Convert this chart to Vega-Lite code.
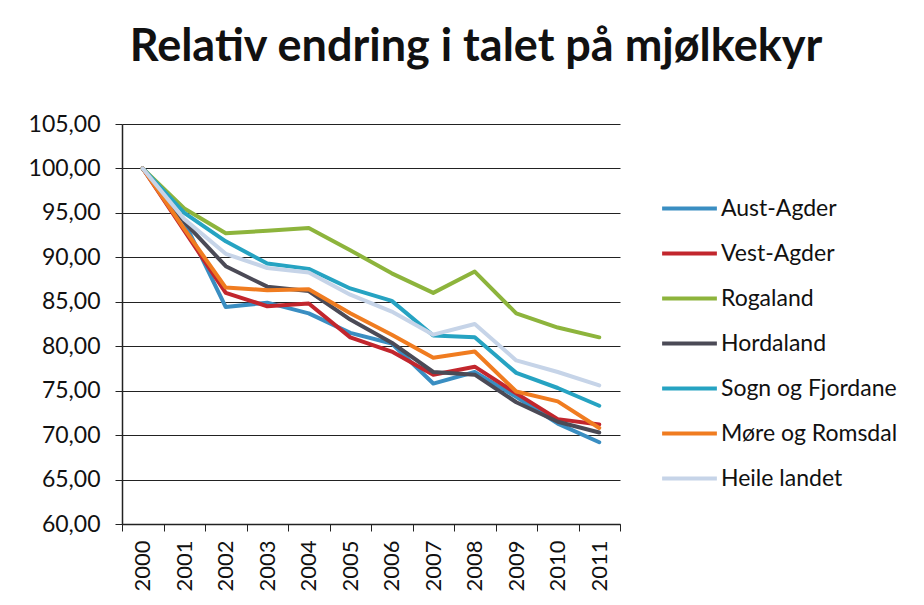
{
  "$schema": "https://vega.github.io/schema/vega-lite/v6.json",
  "width": 498,
  "height": 400,
  "autosize": "none",
  "padding": {"left": 122, "top": 124, "right": 304, "bottom": 81},
  "background": "white",
  "title": {
    "text": "Relativ endring i talet på mjølkekyr",
    "font": "Lato",
    "fontSize": 45,
    "fontWeight": "bold",
    "color": "#111111",
    "anchor": "middle",
    "dx": 105,
    "offset": 43
  },
  "datasets": {
    "d": [
      {"year": "2000", "region": "Aust-Agder", "value": 100},
      {"year": "2001", "region": "Aust-Agder", "value": 94.0},
      {"year": "2002", "region": "Aust-Agder", "value": 84.4},
      {"year": "2003", "region": "Aust-Agder", "value": 84.9},
      {"year": "2004", "region": "Aust-Agder", "value": 83.7},
      {"year": "2005", "region": "Aust-Agder", "value": 81.5},
      {"year": "2006", "region": "Aust-Agder", "value": 80.3},
      {"year": "2007", "region": "Aust-Agder", "value": 75.8},
      {"year": "2008", "region": "Aust-Agder", "value": 77.1},
      {"year": "2009", "region": "Aust-Agder", "value": 74.3},
      {"year": "2010", "region": "Aust-Agder", "value": 71.3},
      {"year": "2011", "region": "Aust-Agder", "value": 69.2},

      {"year": "2000", "region": "Vest-Agder", "value": 100},
      {"year": "2001", "region": "Vest-Agder", "value": 93.0},
      {"year": "2002", "region": "Vest-Agder", "value": 86.0},
      {"year": "2003", "region": "Vest-Agder", "value": 84.5},
      {"year": "2004", "region": "Vest-Agder", "value": 84.8},
      {"year": "2005", "region": "Vest-Agder", "value": 81.0},
      {"year": "2006", "region": "Vest-Agder", "value": 79.4},
      {"year": "2007", "region": "Vest-Agder", "value": 76.8},
      {"year": "2008", "region": "Vest-Agder", "value": 77.7},
      {"year": "2009", "region": "Vest-Agder", "value": 74.7},
      {"year": "2010", "region": "Vest-Agder", "value": 71.8},
      {"year": "2011", "region": "Vest-Agder", "value": 71.2},

      {"year": "2000", "region": "Rogaland", "value": 100},
      {"year": "2001", "region": "Rogaland", "value": 95.5},
      {"year": "2002", "region": "Rogaland", "value": 92.7},
      {"year": "2003", "region": "Rogaland", "value": 93.0},
      {"year": "2004", "region": "Rogaland", "value": 93.3},
      {"year": "2005", "region": "Rogaland", "value": 90.8},
      {"year": "2006", "region": "Rogaland", "value": 88.2},
      {"year": "2007", "region": "Rogaland", "value": 86.0},
      {"year": "2008", "region": "Rogaland", "value": 88.4},
      {"year": "2009", "region": "Rogaland", "value": 83.7},
      {"year": "2010", "region": "Rogaland", "value": 82.1},
      {"year": "2011", "region": "Rogaland", "value": 81.0},

      {"year": "2000", "region": "Hordaland", "value": 100},
      {"year": "2001", "region": "Hordaland", "value": 94.0},
      {"year": "2002", "region": "Hordaland", "value": 89.0},
      {"year": "2003", "region": "Hordaland", "value": 86.7},
      {"year": "2004", "region": "Hordaland", "value": 86.2},
      {"year": "2005", "region": "Hordaland", "value": 83.0},
      {"year": "2006", "region": "Hordaland", "value": 80.4},
      {"year": "2007", "region": "Hordaland", "value": 77.1},
      {"year": "2008", "region": "Hordaland", "value": 76.8},
      {"year": "2009", "region": "Hordaland", "value": 73.7},
      {"year": "2010", "region": "Hordaland", "value": 71.5},
      {"year": "2011", "region": "Hordaland", "value": 70.3},

      {"year": "2000", "region": "Sogn og Fjordane", "value": 100},
      {"year": "2001", "region": "Sogn og Fjordane", "value": 95.0},
      {"year": "2002", "region": "Sogn og Fjordane", "value": 91.8},
      {"year": "2003", "region": "Sogn og Fjordane", "value": 89.3},
      {"year": "2004", "region": "Sogn og Fjordane", "value": 88.7},
      {"year": "2005", "region": "Sogn og Fjordane", "value": 86.5},
      {"year": "2006", "region": "Sogn og Fjordane", "value": 85.1},
      {"year": "2007", "region": "Sogn og Fjordane", "value": 81.2},
      {"year": "2008", "region": "Sogn og Fjordane", "value": 81.0},
      {"year": "2009", "region": "Sogn og Fjordane", "value": 77.0},
      {"year": "2010", "region": "Sogn og Fjordane", "value": 75.3},
      {"year": "2011", "region": "Sogn og Fjordane", "value": 73.3},

      {"year": "2000", "region": "Møre og Romsdal", "value": 100},
      {"year": "2001", "region": "Møre og Romsdal", "value": 93.2},
      {"year": "2002", "region": "Møre og Romsdal", "value": 86.6},
      {"year": "2003", "region": "Møre og Romsdal", "value": 86.3},
      {"year": "2004", "region": "Møre og Romsdal", "value": 86.4},
      {"year": "2005", "region": "Møre og Romsdal", "value": 83.7},
      {"year": "2006", "region": "Møre og Romsdal", "value": 81.3},
      {"year": "2007", "region": "Møre og Romsdal", "value": 78.7},
      {"year": "2008", "region": "Møre og Romsdal", "value": 79.4},
      {"year": "2009", "region": "Møre og Romsdal", "value": 74.9},
      {"year": "2010", "region": "Møre og Romsdal", "value": 73.8},
      {"year": "2011", "region": "Møre og Romsdal", "value": 70.8},

      {"year": "2000", "region": "Heile landet", "value": 100},
      {"year": "2001", "region": "Heile landet", "value": 94.3},
      {"year": "2002", "region": "Heile landet", "value": 90.4},
      {"year": "2003", "region": "Heile landet", "value": 88.8},
      {"year": "2004", "region": "Heile landet", "value": 88.3},
      {"year": "2005", "region": "Heile landet", "value": 85.8},
      {"year": "2006", "region": "Heile landet", "value": 83.9},
      {"year": "2007", "region": "Heile landet", "value": 81.3},
      {"year": "2008", "region": "Heile landet", "value": 82.5},
      {"year": "2009", "region": "Heile landet", "value": 78.4},
      {"year": "2010", "region": "Heile landet", "value": 77.1},
      {"year": "2011", "region": "Heile landet", "value": 75.6}
    ]
  },
  "data": {"name": "d"},
  "mark": {"type": "line", "strokeWidth": 4, "strokeJoin": "round", "strokeCap": "round"},
  "encoding": {
    "x": {
      "field": "year",
      "type": "ordinal",
      "scale": {"type": "band", "paddingInner": 0, "paddingOuter": 0},
      "axis": {
        "title": null,
        "labelAngle": -90,
        "labelAlign": "right",
        "labelBaseline": "middle",
        "labelFont": "Lato",
        "labelFontSize": 22,
        "labelColor": "#111111",
        "labelPadding": 9,
        "tickBand": "extent",
        "tickSize": 7,
        "tickColor": "#222222",
        "domainColor": "#222222",
        "domainWidth": 1.5,
        "grid": false
      }
    },
    "y": {
      "field": "value",
      "type": "quantitative",
      "scale": {"domain": [60, 105], "nice": false, "zero": false},
      "axis": {
        "title": null,
        "values": [60, 65, 70, 75, 80, 85, 90, 95, 100, 105],
        "labelExpr": "replace(format(datum.value, '.2f'), '.', ',')",
        "labelFont": "Lato",
        "labelFontSize": 23,
        "labelColor": "#111111",
        "labelPadding": 15,
        "tickSize": 7,
        "tickColor": "#222222",
        "domainColor": "#222222",
        "domainWidth": 1.5,
        "grid": true,
        "gridColor": "#222222",
        "gridWidth": 1.2,
        "gridOpacity": 1
      }
    },
    "color": {
      "field": "region",
      "type": "nominal",
      "sort": ["Aust-Agder", "Vest-Agder", "Rogaland", "Hordaland", "Sogn og Fjordane", "Møre og Romsdal", "Heile landet"],
      "scale": {
        "domain": ["Aust-Agder", "Vest-Agder", "Rogaland", "Hordaland", "Sogn og Fjordane", "Møre og Romsdal", "Heile landet"],
        "range": ["#3a8ec2", "#c2262d", "#8db43c", "#4b4a56", "#26a3c2", "#f07c20", "#c6d4e8"]
      },
      "legend": {
        "title": null,
        "orient": "none",
        "legendX": 538,
        "legendY": 55,
        "symbolType": "stroke",
        "symbolSize": 3000,
        "symbolStrokeWidth": 4,
        "labelFont": "Lato",
        "labelFontSize": 23,
        "labelColor": "#111111",
        "labelOffset": 2,
        "rowPadding": 3,
        "labelLimit": 300
      }
    }
  },
  "config": {
    "view": {"stroke": null},
    "axis": {"labelFontWeight": "normal"}
  }
}
